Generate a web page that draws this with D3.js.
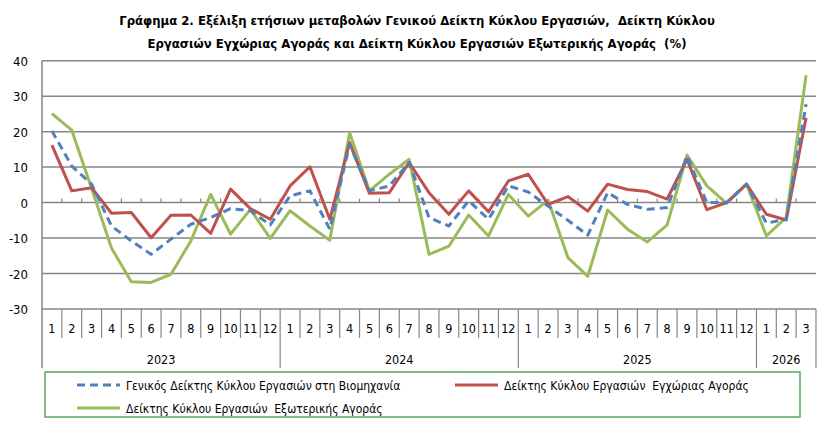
<!DOCTYPE html>
<html>
<head>
<meta charset="utf-8">
<script src="https://cdn.jsdelivr.net/npm/d3@7"></script>
<style>
  body { margin: 0; background: #fff; }
  text { font-family: "DejaVu Sans Condensed", "Liberation Sans Narrow", sans-serif; fill: #000; white-space: pre; }
</style>
</head>
<body>
<div id="chart"></div>
<script>
// ---- data ----
var years = ["2023", "2024", "2025", "2026"];
var monthsPerYear = [12, 12, 12, 3];

var general = [20.2, 10.3, 5.2, -6.6, -10.8, -14.6, -10.3, -6.1, -4.2, -1.7, -2.3, -6.3,
               1.9, 3.3, -7.5, 16.4, 3.3, 4.7, 11.3, -4.2, -6.6, 0.5, -4.7, 4.7,
               3.0, -1.0, -5.0, -9.2, 2.8, -0.5, -1.9, -1.4, 13.1, 0.0, 0.0, 5.2,
               -5.8, -4.7, 27.7];
var domestic = [16.2, 3.3, 4.2, -3.0, -2.8, -9.9, -3.6, -3.5, -8.7, 3.8, -1.7, -4.7,
                4.7, 10.1, -4.7, 16.9, 2.6, 2.8, 11.3, 2.8, -3.3, 3.3, -2.6, 6.1,
                8.0, -0.5, 1.7, -2.4, 5.2, 3.7, 3.1, 1.0, 12.2, -2.0, 0.0, 5.2,
                -3.3, -4.9, 23.9];
var external = [25.1, 20.4, 4.0, -12.8, -22.3, -22.5, -20.2, -10.8, 2.3, -8.9, -1.9, -10.1,
                -2.3, -6.6, -10.6, 19.7, 3.3, 8.0, 12.2, -14.6, -12.3, -3.5, -9.4, 2.3,
                -3.8, 0.7, -15.5, -20.8, -2.1, -7.5, -11.1, -6.3, 13.4, 4.7, -0.2, 5.2,
                -9.4, -4.2, 35.9];
var yTicks = [-30, -20, -10, 0, 10, 20, 30, 40];

var seriesNames = ["Γενικός Δείκτης Κύκλου Εργασιών στη Βιομηχανία",
                   "Δείκτης Κύκλου Εργασιών  Εγχώριας Αγοράς",
                   "Δείκτης Κύκλου Εργασιών  Εξωτερικής Αγοράς"];
var titleLines = ["Γράφημα 2. Εξέλιξη ετήσιων μεταβολών Γενικού Δείκτη Κύκλου Εργασιών,  Δείκτη Κύκλου",
                  "Εργασιών Εγχώριας Αγοράς και Δείκτη Κύκλου Εργασιών Εξωτερικής Αγοράς  (%)"];

// build category list
var cats = [];
years.forEach(function (yr, j) {
  for (var m = 1; m <= monthsPerYear[j]; m++) cats.push({ key: yr + "-" + m, year: yr, month: m });
});

var W = 821, H = 425;
var plotLeft = 42, plotRight = 816, plotTop = 60.7, plotBottom = 309;

var svg = d3.select("#chart").append("svg").attr("width", W).attr("height", H);

var x = d3.scaleBand().domain(cats.map(function (d) { return d.key; })).range([plotLeft, plotRight]);
var y = d3.scaleLinear().domain([-30, 40]).range([plotBottom, plotTop]);

var gridColor = "#868686";

// title
svg.selectAll(".title").data(titleLines).enter().append("text")
  .attr("class", "title")
  .attr("x", 417).attr("y", function (d, i) { return 25 + i * 23; })
  .attr("text-anchor", "middle").style("font-size", "13px").style("font-weight", "bold")
  .text(function (d) { return d; });

// gridlines
svg.append("g").selectAll("line").data(yTicks).enter().append("line")
  .attr("x1", plotLeft).attr("x2", plotRight)
  .attr("y1", function (d) { return y(d); }).attr("y2", function (d) { return y(d); })
  .attr("stroke", gridColor).attr("stroke-width", 1.5);

// y axis line + labels
svg.append("line").attr("x1", plotLeft).attr("x2", plotLeft).attr("y1", plotTop).attr("y2", 368)
  .attr("stroke", gridColor).attr("stroke-width", 1.5);
svg.append("g").selectAll("text").data(yTicks).enter().append("text")
  .attr("x", 28).attr("y", function (d) { return y(d) + 5; })
  .attr("text-anchor", "end").style("font-size", "13px")
  .text(function (d) { return d; });

// small ticks on the zero line
svg.append("g").selectAll("line").data(cats.slice(1)).enter().append("line")
  .attr("x1", function (d) { return x(d.key); }).attr("x2", function (d) { return x(d.key); })
  .attr("y1", y(0) - 4).attr("y2", y(0))
  .attr("stroke", gridColor).attr("stroke-width", 1.2);

// category table below plot
svg.append("g").selectAll("line").data(cats.slice(1)).enter().append("line")
  .attr("x1", function (d) { return x(d.key); }).attr("x2", function (d) { return x(d.key); })
  .attr("y1", plotBottom).attr("y2", function (d) { return d.month === 1 ? 368 : 338; })
  .attr("stroke", gridColor).attr("stroke-width", 1.2);
svg.append("line").attr("x1", plotRight).attr("x2", plotRight).attr("y1", plotBottom).attr("y2", 368)
  .attr("stroke", gridColor).attr("stroke-width", 1.2);

svg.append("g").selectAll("text").data(cats).enter().append("text")
  .attr("x", function (d) { return x(d.key) + x.bandwidth() / 2; })
  .attr("y", 333).attr("text-anchor", "middle").style("font-size", "12.5px")
  .text(function (d) { return d.month; });

svg.append("g").selectAll("text").data(years).enter().append("text")
  .attr("x", function (yr) {
    var ks = cats.filter(function (c) { return c.year === yr; });
    return (x(ks[0].key) + x(ks[ks.length - 1].key) + x.bandwidth()) / 2;
  })
  .attr("y", 364).attr("text-anchor", "middle").style("font-size", "12.5px")
  .text(function (d) { return d; });

// lines
var line = d3.line()
  .x(function (d, i) { return x(cats[i].key) + x.bandwidth() / 2; })
  .y(function (d) { return y(d); });

var series = [
  { values: external, color: "#9bbb59", dash: null },
  { values: domestic, color: "#c0504d", dash: null },
  { values: general, color: "#4f81bd", dash: "8,5" }
];
svg.append("g").selectAll("path").data(series).enter().append("path")
  .attr("d", function (d) { return line(d.values); })
  .attr("fill", "none")
  .attr("stroke", function (d) { return d.color; })
  .attr("stroke-width", 3)
  .attr("stroke-linejoin", "round")
  .attr("stroke-dasharray", function (d) { return d.dash; });

// legend
svg.append("rect").attr("x", 45).attr("y", 372).attr("width", 755).attr("height", 45)
  .attr("fill", "none").attr("stroke", "#5aa85a").attr("stroke-width", 1.5);

var legendItems = [
  { name: seriesNames[0], color: "#4f81bd", dash: "8,5", x: 77, y: 385 },
  { name: seriesNames[1], color: "#c0504d", dash: null, x: 455, y: 385 },
  { name: seriesNames[2], color: "#9bbb59", dash: null, x: 77, y: 408 }
];
var lg = svg.append("g").selectAll("g").data(legendItems).enter().append("g");
lg.append("line")
  .attr("x1", function (d) { return d.x; }).attr("x2", function (d) { return d.x + 43; })
  .attr("y1", function (d) { return d.y; }).attr("y2", function (d) { return d.y; })
  .attr("stroke", function (d) { return d.color; }).attr("stroke-width", 3)
  .attr("stroke-dasharray", function (d) { return d.dash; });
lg.append("text")
  .attr("x", function (d) { return d.x + 49; }).attr("y", function (d) { return d.y + 4.5; })
  .style("font-size", "12px")
  .text(function (d) { return d.name; });
</script>
</body>
</html>
